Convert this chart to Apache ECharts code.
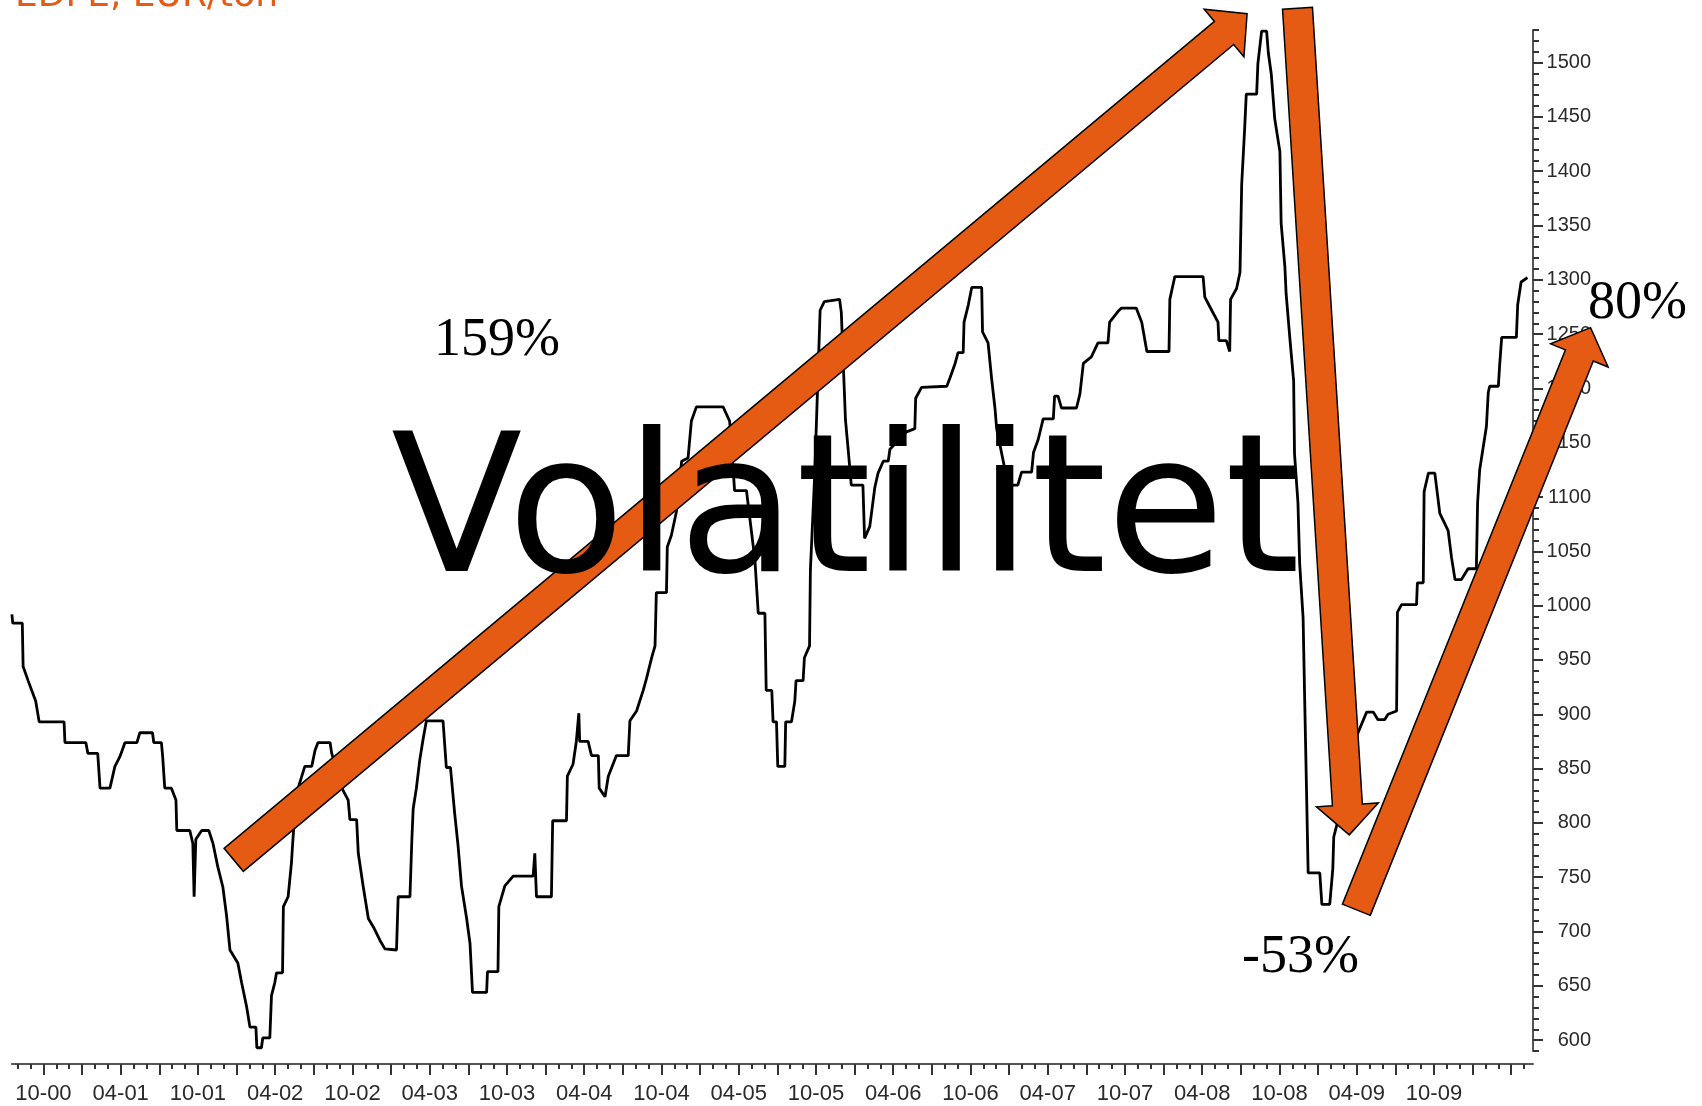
<!DOCTYPE html>
<html>
<head>
<meta charset="utf-8">
<title>EDPE, EUR/ton</title>
<script src="https://cdn.jsdelivr.net/npm/echarts@6/dist/echarts.min.js"></script>
<style>
  html, body { margin: 0; padding: 0; background: #fff; }
  #chart { width: 1702px; height: 1106px; }
</style>
</head>
<body>
<div id="chart"></div>
<script>
// EDPE pris (EUR/ton), knekkpunkter avlest fra originalgrafen
const dates = [
  '2000-07-18', '2000-07-20', '2000-08-12', '2000-08-14', '2000-08-26', '2000-09-13', '2000-09-21', '2000-11-19',
  '2000-11-21', '2001-01-10', '2001-01-15', '2001-02-07', '2001-02-12', '2001-03-06', '2001-03-18', '2001-03-30',
  '2001-04-11', '2001-05-09', '2001-05-16', '2001-06-15', '2001-06-18', '2001-07-06', '2001-07-09', '2001-07-14',
  '2001-07-30', '2001-08-10', '2001-08-12', '2001-09-12', '2001-09-19', '2001-09-22', '2001-09-26', '2001-10-10',
  '2001-10-27', '2001-11-06', '2001-11-17', '2001-11-29', '2001-12-08', '2001-12-16', '2002-01-04', '2002-01-13',
  '2002-01-25', '2002-02-02', '2002-02-15', '2002-02-17', '2002-02-27', '2002-03-02', '2002-03-19', '2002-03-23',
  '2002-03-31', '2002-04-04', '2002-04-18', '2002-04-20', '2002-05-01', '2002-05-09', '2002-05-13', '2002-05-21',
  '2002-06-10', '2002-06-26', '2002-07-04', '2002-07-11', '2002-08-09', '2002-08-13', '2002-09-09', '2002-09-21',
  '2002-09-25', '2002-10-11', '2002-10-15', '2002-10-27', '2002-11-08', '2002-11-20', '2002-12-05', '2002-12-17',
  '2003-01-14', '2003-01-18', '2003-02-14', '2003-02-18', '2003-02-21', '2003-02-28', '2003-03-08', '2003-03-16',
  '2003-03-24', '2003-05-02', '2003-05-10', '2003-05-20', '2003-05-30', '2003-06-07', '2003-06-15', '2003-06-27',
  '2003-07-05', '2003-07-11', '2003-08-14', '2003-08-16', '2003-09-10', '2003-09-12', '2003-09-26', '2003-10-16',
  '2003-12-02', '2003-12-06', '2003-12-10', '2004-01-15', '2004-01-18', '2004-02-19', '2004-02-21', '2004-03-05',
  '2004-03-13', '2004-03-19', '2004-03-21', '2004-04-10', '2004-04-18', '2004-05-04', '2004-05-06', '2004-05-20',
  '2004-05-28', '2004-06-16', '2004-07-14', '2004-07-18', '2004-08-03', '2004-08-19', '2004-08-27', '2004-09-08',
  '2004-09-16', '2004-09-19', '2004-10-13', '2004-10-15', '2004-10-25', '2004-11-06', '2004-11-18', '2004-12-03',
  '2004-12-11', '2004-12-23', '2005-02-23', '2005-03-10', '2005-03-14', '2005-03-22', '2005-04-19', '2005-04-27',
  '2005-05-09', '2005-05-17', '2005-06-02', '2005-06-05', '2005-06-18', '2005-06-21', '2005-06-29', '2005-07-02',
  '2005-07-19', '2005-07-21', '2005-08-04', '2005-08-12', '2005-08-15', '2005-09-01', '2005-09-04', '2005-09-16',
  '2005-09-18', '2005-09-28', '2005-10-11', '2005-10-21', '2005-11-26', '2005-11-30', '2005-12-10', '2005-12-16',
  '2005-12-24', '2006-01-21', '2006-01-25', '2006-02-06', '2006-02-17', '2006-02-24', '2006-03-08', '2006-03-20',
  '2006-03-24', '2006-05-02', '2006-05-22', '2006-05-24', '2006-06-07', '2006-08-06', '2006-08-14', '2006-08-26',
  '2006-09-02', '2006-09-14', '2006-09-16', '2006-09-26', '2006-10-04', '2006-10-28', '2006-10-30', '2006-11-12',
  '2006-11-20', '2006-11-28', '2006-12-02', '2006-12-29', '2007-01-03', '2007-01-22', '2007-01-31', '2007-02-22',
  '2007-02-26', '2007-03-09', '2007-03-21', '2007-04-14', '2007-04-17', '2007-04-25', '2007-05-03', '2007-06-08',
  '2007-06-16', '2007-06-24', '2007-07-13', '2007-07-29', '2007-08-22', '2007-08-26', '2007-09-15', '2007-09-23',
  '2007-10-28', '2007-11-10', '2007-11-22', '2008-01-14', '2008-01-16', '2008-01-28', '2008-04-03', '2008-04-07',
  '2008-04-23', '2008-05-08', '2008-05-10', '2008-05-28', '2008-06-05', '2008-06-07', '2008-06-21', '2008-06-29',
  '2008-07-03', '2008-07-10', '2008-07-14', '2008-08-08', '2008-08-11', '2008-08-20', '2008-09-01', '2008-09-05',
  '2008-09-12', '2008-09-20', '2008-10-02', '2008-10-05', '2008-10-14', '2008-10-17', '2008-10-26', '2008-11-04',
  '2008-11-06', '2008-11-14', '2008-11-18', '2008-11-26', '2008-11-30', '2008-12-04', '2008-12-08', '2009-01-05',
  '2009-01-10', '2009-01-29', '2009-02-05', '2009-02-07', '2009-02-13', '2009-03-04', '2009-03-20', '2009-04-04',
  '2009-04-24', '2009-05-10', '2009-05-21', '2009-06-06', '2009-06-14', '2009-07-04', '2009-07-06', '2009-07-16',
  '2009-08-21', '2009-08-23', '2009-09-06', '2009-09-08', '2009-09-18', '2009-10-03', '2009-10-15', '2009-11-04',
  '2009-11-12', '2009-11-20', '2009-12-05', '2009-12-21', '2010-01-10', '2010-01-13', '2010-01-18', '2010-02-03',
  '2010-02-07', '2010-02-10', '2010-03-01', '2010-03-04', '2010-03-09', '2010-04-13', '2010-04-16', '2010-04-24',
  '2010-05-09'
];
const prices = [
  992, 984, 984, 944, 931, 912, 893, 893,
  874, 874, 864, 864, 832, 832, 852, 861,
  874, 874, 883, 883, 874, 874, 861, 832,
  832, 821, 793, 793, 781, 732, 785, 793,
  793, 781, 760, 741, 714, 683, 671, 653,
  631, 612, 612, 593, 593, 602, 602, 641,
  653, 662, 662, 723, 732, 763, 787, 827,
  852, 852, 867, 874, 874, 864, 830, 821,
  803, 803, 772, 741, 712, 704, 692, 684,
  683, 732, 732, 783, 813, 832, 858, 877,
  894, 894, 851, 851, 809, 779, 742, 712,
  689, 644, 644, 663, 663, 723, 742, 751,
  751, 772, 732, 732, 802, 802, 843, 854,
  875, 901, 875, 875, 862, 862, 832, 824,
  843, 862, 862, 894, 903, 922, 933, 952,
  963, 1012, 1012, 1054, 1065, 1087, 1133, 1136,
  1170, 1183, 1183, 1170, 1152, 1106, 1106, 1080,
  1042, 993, 993, 922, 922, 893, 893, 852,
  852, 893, 893, 912, 931, 931, 952, 963,
  1033, 1120, 1272, 1280, 1282, 1270, 1171, 1146,
  1111, 1111, 1062, 1073, 1109, 1122, 1133, 1133,
  1144, 1160, 1163, 1191, 1201, 1202, 1210, 1223,
  1233, 1233, 1261, 1277, 1293, 1293, 1252, 1242,
  1210, 1182, 1163, 1112, 1111, 1111, 1123, 1123,
  1141, 1153, 1172, 1172, 1193, 1193, 1182, 1182,
  1195, 1223, 1229, 1242, 1242, 1261, 1271, 1274,
  1274, 1261, 1234, 1234, 1282, 1303, 1303, 1284,
  1272, 1261, 1244, 1244, 1234, 1282, 1292, 1307,
  1388, 1438, 1471, 1471, 1499, 1529, 1529, 1509,
  1489, 1448, 1418, 1352, 1312, 1287, 1246, 1207,
  1140, 1095, 1039, 989, 908, 832, 754, 754,
  725, 725, 758, 787, 797, 830, 868, 883,
  902, 902, 895, 895, 900, 903, 994, 1001,
  1001, 1021, 1021, 1105, 1122, 1122, 1085, 1069,
  1044, 1024, 1024, 1034, 1034, 1095, 1125, 1165,
  1196, 1202, 1202, 1221, 1247, 1247, 1277, 1298,
  1302
];

// akser
const yLabelValues = [600, 650, 700, 750, 800, 850, 900, 950, 1000, 1050,
  1100, 1150, 1200, 1250, 1300, 1350, 1400, 1450, 1500];
const xLabelMonths = ['2000-10', '2001-04', '2001-10', '2002-04', '2002-10', '2003-04', '2003-10',
  '2004-04', '2004-10', '2005-04', '2005-10', '2006-04', '2006-10', '2007-04', '2007-10',
  '2008-04', '2008-10', '2009-04', '2009-10'];

// piler og tekster lagt oppå grafen
const arrows = [
  { from: ['2001-12-25', 766], to: ['2008-07-16', 1545] },
  { from: ['2008-11-13', 1550], to: ['2009-03-14', 789] },
  { from: ['2009-03-31', 720], to: ['2010-10-06', 1256] }
];
const ORANGE = '#E55B13';

// dato -> månedsindeks (jan 2000 = 0)
function monthIndex(s) {
  const p = s.split('-').map(Number);
  const d = p[2] || 1;
  const dim = new Date(p[0], p[1], 0).getDate();
  return (p[0] - 2000) * 12 + (p[1] - 1) + (d - 1) / dim;
}

const xMin = 6.54, xMax = 124.69;
const yMin = 590, yMax = 1530;

const xLabelVals = xLabelMonths.map(monthIndex);
const xMajorVals = [], xMinorVals = [];
for (let m = 7; m <= 124; m++) {
  xMinorVals.push(m);
  if (m % 3 === 0) xMajorVals.push(m);
}
const yMinorVals = [];
for (let v = yMin; v <= yMax; v += 10) yMinorVals.push(v);

const seriesData = dates.map((d, i) => [monthIndex(d), prices[i]]);

const axisColor = '#555';
const labelColor = '#2a2a2a';

const chart = echarts.init(document.getElementById('chart'));

const option = {
  animation: false,
  backgroundColor: '#fff',
  grid: {
    left: 11.8,
    right: 169,
    top: 30,
    bottom: 55,
    containLabel: false,
    outerBoundsMode: 'none'
  },
  xAxis: [
    {
      type: 'value',
      position: 'bottom',
      min: xMin,
      max: xMax,
      offset: 13,
      splitLine: {show: false},
      axisLine: {show: true, lineStyle: {color: axisColor, width: 2}},
      axisTick: {show: true, customValues: xMajorVals, length: 11, lineStyle: {color: '#333', width: 2}},
      axisLabel: {
        show: true,
        customValues: xLabelVals,
        margin: 19,
        color: labelColor,
        fontFamily: 'Liberation Sans, Arial, sans-serif',
        fontSize: 22,
        formatter: function (v) {
          const m = Math.round(v);
          const mm = (m % 12) + 1;
          const yy = Math.floor(m / 12);
          return (mm < 10 ? '0' : '') + mm + '-' + (yy < 10 ? '0' : '') + yy;
        }
      }
    },
    {
      type: 'value',
      position: 'bottom',
      min: xMin,
      max: xMax,
      offset: 13,
      splitLine: {show: false},
      axisLine: {show: false},
      axisTick: {show: true, customValues: xMinorVals, length: 5, lineStyle: {color: '#333', width: 2}},
      axisLabel: {show: false}
    }
  ],
  yAxis: [
    {
      type: 'value',
      position: 'right',
      min: yMin,
      max: yMax,
      splitLine: {show: false},
      axisLine: {show: true, lineStyle: {color: axisColor, width: 2}},
      axisTick: {show: true, customValues: yLabelValues, length: 10, lineStyle: {color: '#333', width: 2}},
      axisLabel: {
        show: true,
        customValues: yLabelValues,
        align: 'right',
        margin: 58,
        color: labelColor,
        fontFamily: 'Liberation Sans, Arial, sans-serif',
        fontSize: 20,
        formatter: function (v) { return String(v); }
      }
    },
    {
      type: 'value',
      position: 'right',
      min: yMin,
      max: yMax,
      splitLine: {show: false},
      axisLine: {show: false},
      axisTick: {show: true, customValues: yMinorVals, length: 6, lineStyle: {color: '#333', width: 2}},
      axisLabel: {show: false}
    }
  ],
  series: [
    {
      name: 'EDPE',
      type: 'line',
      xAxisIndex: 0,
      yAxisIndex: 0,
      data: seriesData,
      showSymbol: false,
      symbol: 'none',
      lineStyle: {color: '#000', width: 2.8},
      z: 2
    }
  ]
};

chart.setOption(option);

// pil-polygon i piksler ut fra data-koordinater
const SHAFT = 15, HEAD = 31, HEAD_LEN = 30;
function arrowPoints(a, b) {
  const dx = b[0] - a[0], dy = b[1] - a[1];
  const len = Math.hypot(dx, dy);
  const ux = dx / len, uy = dy / len, nx = -uy, ny = ux;
  const bx = b[0] - HEAD_LEN * ux, by = b[1] - HEAD_LEN * uy;
  const p = (x, y, k) => [x + k * nx, y + k * ny];
  return [p(a[0], a[1], SHAFT), p(bx, by, SHAFT), p(bx, by, HEAD), b,
          p(bx, by, -HEAD), p(bx, by, -SHAFT), p(a[0], a[1], -SHAFT)];
}

const toPx = (pt) => chart.convertToPixel({xAxisIndex: 0, yAxisIndex: 0}, [monthIndex(pt[0]), pt[1]]);

const graphics = arrows.map((a) => ({
  type: 'polygon',
  z: 10,
  shape: {points: arrowPoints(toPx(a.from), toPx(a.to))},
  style: {fill: ORANGE, stroke: '#000', lineWidth: 1.5}
}));

function label(text, x, y, size, family, color) {
  return {
    type: 'text', x: x, y: y, z: 20,
    style: {text: text, fontSize: size, fontFamily: family, fill: color, verticalAlign: 'middle', align: 'left'}
  };
}

graphics.push(
  label('EDPE, EUR/ton', 15, -3, 36, 'DejaVu Sans', ORANGE),
  label('Volatilitet', 391, 521, 192, 'DejaVu Sans', '#000'),
  label('159%', 434, 341, 54, 'Liberation Serif', '#000'),
  label('80%', 1588, 304, 54, 'Liberation Serif', '#000'),
  label('-53%', 1242, 958, 54, 'Liberation Serif', '#000')
);

chart.setOption({graphic: graphics});
</script>
</body>
</html>
